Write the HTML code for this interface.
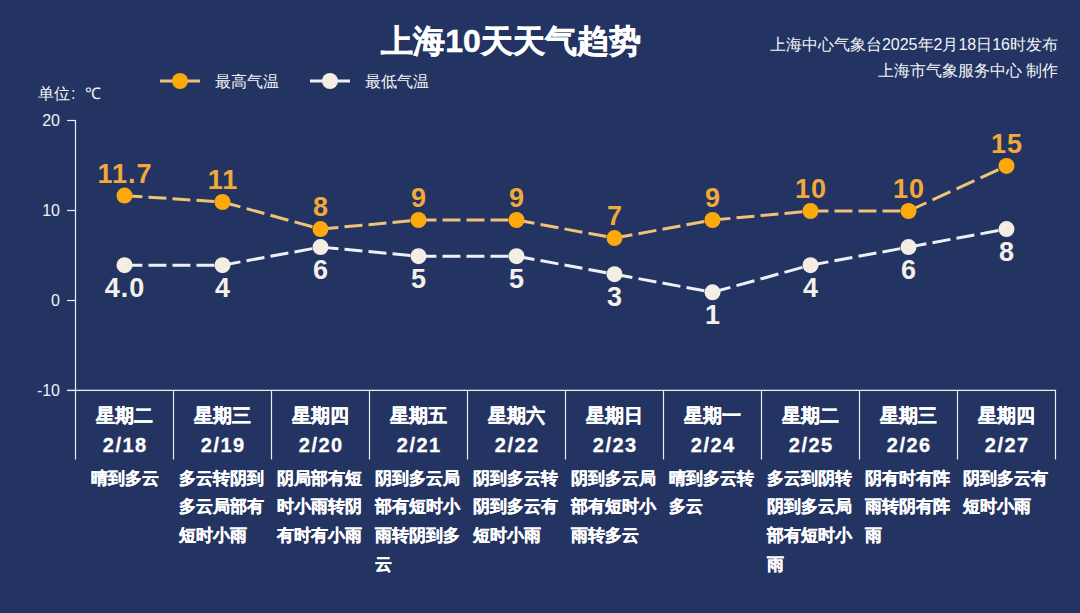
<!DOCTYPE html>
<html><head><meta charset="utf-8">
<style>
html,body{margin:0;padding:0;}
body{width:1080px;height:613px;background:#243462;position:relative;overflow:hidden;font-family:"Liberation Sans",sans-serif;color:#fff;}
.abs{position:absolute;white-space:nowrap;}
#title{position:absolute;left:0;top:21px;width:1022px;text-align:center;font-size:32px;font-weight:bold;line-height:40px;-webkit-text-stroke:0.5px #fff}
.src{position:absolute;right:22px;font-size:16px;line-height:20px;text-align:right;white-space:nowrap;color:#f2f4f8}
.leg{position:absolute;font-size:16px;line-height:20px;color:#f2f4f8;white-space:nowrap}
svg{position:absolute;left:0;top:0}
.ytk{position:absolute;width:40px;text-align:right;font-size:16px;line-height:16px;color:#eef2f8}
.vl{position:absolute;width:100px;text-align:center;font-size:27px;font-weight:bold;line-height:28px;letter-spacing:1px;text-indent:1px}
.hi{color:#f2a83a}
.lo{color:#f4f0ea}
.col{position:absolute;top:390px;width:98px;text-align:center}
.day{position:absolute;top:15px;left:0;width:98px;font-size:19px;font-weight:bold;line-height:22px;-webkit-text-stroke:0.4px #fff}
.date{position:absolute;top:44px;left:0;width:98px;font-size:20px;letter-spacing:1.5px;text-indent:1.5px;-webkit-text-stroke:0.3px #fff;font-weight:bold;line-height:22px}
.desc{position:absolute;top:74.5px;left:0;width:98px;text-align:center}
.desc span{display:inline-block;-webkit-text-stroke:0.3px #fff;text-align:left;font-size:17px;font-weight:bold;line-height:28.7px;max-width:91px;}
.desc span.ml{position:relative;left:-1.5px}
</style></head><body>
<div id="title">上海10天天气趋势</div>
<div class="src" style="top:35px">上海中心气象台2025年2月18日16时发布</div>
<div class="src" style="top:61px">上海市气象服务中心 制作</div>
<svg width="1080" height="613" viewBox="0 0 1080 613">
<path d="M160 81 H200" stroke="#efc27a" stroke-width="3"/><circle cx="180" cy="81" r="8" fill="#fba90c"/>
<path d="M310 81 H350" stroke="#eef0f8" stroke-width="3"/><circle cx="330" cy="81" r="8" fill="#f3ede4"/>
<path d="M75.5 120.5 V459.5" stroke="#e9eef5" stroke-width="1.2" fill="none"/>
<path d="M67 120.5 H76" stroke="#e9eef5" stroke-width="1.2"/>
<path d="M67 210.5 H76" stroke="#e9eef5" stroke-width="1.2"/>
<path d="M67 300.5 H76" stroke="#e9eef5" stroke-width="1.2"/>
<path d="M67 390.5 H76" stroke="#e9eef5" stroke-width="1.2"/>
<path d="M67 390.3 H1056" stroke="#e9eef5" stroke-width="1.2"/>
<path d="M173.5 390 V459.5" stroke="#e9eef5" stroke-width="1.2"/>
<path d="M271.5 390 V459.5" stroke="#e9eef5" stroke-width="1.2"/>
<path d="M369.5 390 V459.5" stroke="#e9eef5" stroke-width="1.2"/>
<path d="M467.5 390 V459.5" stroke="#e9eef5" stroke-width="1.2"/>
<path d="M565.5 390 V459.5" stroke="#e9eef5" stroke-width="1.2"/>
<path d="M663.5 390 V459.5" stroke="#e9eef5" stroke-width="1.2"/>
<path d="M761.5 390 V459.5" stroke="#e9eef5" stroke-width="1.2"/>
<path d="M859.5 390 V459.5" stroke="#e9eef5" stroke-width="1.2"/>
<path d="M957.5 390 V459.5" stroke="#e9eef5" stroke-width="1.2"/>
<path d="M1055.5 390 V459.5" stroke="#e9eef5" stroke-width="1.2"/>
<path d="M124.5 195.65 L222.5 201.97" fill="none" stroke="#efc27a" stroke-width="3" stroke-dasharray="17.94 6.11"/>
<path d="M222.5 201.97 L320.5 229.06" fill="none" stroke="#efc27a" stroke-width="3" stroke-dasharray="18.57 6.33"/>
<path d="M320.5 229.06 L418.5 220.03" fill="none" stroke="#efc27a" stroke-width="3" stroke-dasharray="17.98 6.13"/>
<path d="M418.5 220.03 L516.5 220.03" fill="none" stroke="#efc27a" stroke-width="3" stroke-dasharray="17.90 6.10"/>
<path d="M516.5 220.03 L614.5 238.09" fill="none" stroke="#efc27a" stroke-width="3" stroke-dasharray="18.20 6.20"/>
<path d="M614.5 238.09 L712.5 220.03" fill="none" stroke="#efc27a" stroke-width="3" stroke-dasharray="18.20 6.20"/>
<path d="M712.5 220.03 L810.5 211.00" fill="none" stroke="#efc27a" stroke-width="3" stroke-dasharray="17.98 6.13"/>
<path d="M810.5 211.00 L908.5 211.00" fill="none" stroke="#efc27a" stroke-width="3" stroke-dasharray="17.90 6.10"/>
<path d="M908.5 211.00 L1006.5 165.85" fill="none" stroke="#efc27a" stroke-width="3" stroke-dasharray="19.71 6.72"/>
<path d="M124.5 265.18 L222.5 265.18" fill="none" stroke="#eef0f8" stroke-width="3" stroke-dasharray="17.90 6.10"/>
<path d="M222.5 265.18 L320.5 247.12" fill="none" stroke="#eef0f8" stroke-width="3" stroke-dasharray="18.20 6.20"/>
<path d="M320.5 247.12 L418.5 256.15" fill="none" stroke="#eef0f8" stroke-width="3" stroke-dasharray="17.98 6.13"/>
<path d="M418.5 256.15 L516.5 256.15" fill="none" stroke="#eef0f8" stroke-width="3" stroke-dasharray="17.90 6.10"/>
<path d="M516.5 256.15 L614.5 274.21" fill="none" stroke="#eef0f8" stroke-width="3" stroke-dasharray="18.20 6.20"/>
<path d="M614.5 274.21 L712.5 292.27" fill="none" stroke="#eef0f8" stroke-width="3" stroke-dasharray="18.20 6.20"/>
<path d="M712.5 292.27 L810.5 265.18" fill="none" stroke="#eef0f8" stroke-width="3" stroke-dasharray="18.57 6.33"/>
<path d="M810.5 265.18 L908.5 247.12" fill="none" stroke="#eef0f8" stroke-width="3" stroke-dasharray="18.20 6.20"/>
<path d="M908.5 247.12 L1006.5 229.06" fill="none" stroke="#eef0f8" stroke-width="3" stroke-dasharray="18.20 6.20"/>
<circle cx="124.5" cy="195.6" r="8" fill="#fba90c"/>
<circle cx="124.5" cy="265.2" r="8" fill="#f3ede4"/>
<circle cx="222.5" cy="202.0" r="8" fill="#fba90c"/>
<circle cx="222.5" cy="265.2" r="8" fill="#f3ede4"/>
<circle cx="320.5" cy="229.1" r="8" fill="#fba90c"/>
<circle cx="320.5" cy="247.1" r="8" fill="#f3ede4"/>
<circle cx="418.5" cy="220.0" r="8" fill="#fba90c"/>
<circle cx="418.5" cy="256.2" r="8" fill="#f3ede4"/>
<circle cx="516.5" cy="220.0" r="8" fill="#fba90c"/>
<circle cx="516.5" cy="256.2" r="8" fill="#f3ede4"/>
<circle cx="614.5" cy="238.1" r="8" fill="#fba90c"/>
<circle cx="614.5" cy="274.2" r="8" fill="#f3ede4"/>
<circle cx="712.5" cy="220.0" r="8" fill="#fba90c"/>
<circle cx="712.5" cy="292.3" r="8" fill="#f3ede4"/>
<circle cx="810.5" cy="211.0" r="8" fill="#fba90c"/>
<circle cx="810.5" cy="265.2" r="8" fill="#f3ede4"/>
<circle cx="908.5" cy="211.0" r="8" fill="#fba90c"/>
<circle cx="908.5" cy="247.1" r="8" fill="#f3ede4"/>
<circle cx="1006.5" cy="165.9" r="8" fill="#fba90c"/>
<circle cx="1006.5" cy="229.1" r="8" fill="#f3ede4"/>
</svg>
<div class="leg" style="left:215px;top:72px">最高气温</div>
<div class="leg" style="left:365px;top:72px">最低气温</div>
<div class="leg" style="left:38px;top:84px">单位</div><div class="leg" style="left:71px;top:84px">:</div><div class="leg" style="left:85px;top:84px">℃</div>
<div class="ytk" style="left:20px;top:113px">20</div>
<div class="ytk" style="left:20px;top:203px">10</div>
<div class="ytk" style="left:20px;top:293px">0</div>
<div class="ytk" style="left:20px;top:383px">-10</div>
<div class="vl hi" style="left:74.5px;top:159.6px">11.7</div><div class="vl lo" style="left:74.5px;top:273.7px">4.0</div><div class="vl hi" style="left:172.5px;top:166.0px">11</div><div class="vl lo" style="left:172.5px;top:273.7px">4</div><div class="vl hi" style="left:270.5px;top:193.1px">8</div><div class="vl lo" style="left:270.5px;top:255.6px">6</div><div class="vl hi" style="left:368.5px;top:184.0px">9</div><div class="vl lo" style="left:368.5px;top:264.7px">5</div><div class="vl hi" style="left:466.5px;top:184.0px">9</div><div class="vl lo" style="left:466.5px;top:264.7px">5</div><div class="vl hi" style="left:564.5px;top:202.1px">7</div><div class="vl lo" style="left:564.5px;top:282.7px">3</div><div class="vl hi" style="left:662.5px;top:184.0px">9</div><div class="vl lo" style="left:662.5px;top:300.8px">1</div><div class="vl hi" style="left:760.5px;top:175.0px">10</div><div class="vl lo" style="left:760.5px;top:273.7px">4</div><div class="vl hi" style="left:858.5px;top:175.0px">10</div><div class="vl lo" style="left:858.5px;top:255.6px">6</div><div class="vl hi" style="left:956.5px;top:129.9px">15</div><div class="vl lo" style="left:956.5px;top:237.6px">8</div>
<div class="col" style="left:75.5px"><div class="day">星期二</div><div class="date">2/18</div><div class="desc"><span>晴到多云</span></div></div><div class="col" style="left:173.5px"><div class="day">星期三</div><div class="date">2/19</div><div class="desc"><span class="ml">多云转阴到<br>多云局部有<br>短时小雨</span></div></div><div class="col" style="left:271.5px"><div class="day">星期四</div><div class="date">2/20</div><div class="desc"><span class="ml">阴局部有短<br>时小雨转阴<br>有时有小雨</span></div></div><div class="col" style="left:369.5px"><div class="day">星期五</div><div class="date">2/21</div><div class="desc"><span class="ml">阴到多云局<br>部有短时小<br>雨转阴到多<br>云</span></div></div><div class="col" style="left:467.5px"><div class="day">星期六</div><div class="date">2/22</div><div class="desc"><span class="ml">阴到多云转<br>阴到多云有<br>短时小雨</span></div></div><div class="col" style="left:565.5px"><div class="day">星期日</div><div class="date">2/23</div><div class="desc"><span class="ml">阴到多云局<br>部有短时小<br>雨转多云</span></div></div><div class="col" style="left:663.5px"><div class="day">星期一</div><div class="date">2/24</div><div class="desc"><span class="ml">晴到多云转<br>多云</span></div></div><div class="col" style="left:761.5px"><div class="day">星期二</div><div class="date">2/25</div><div class="desc"><span class="ml">多云到阴转<br>阴到多云局<br>部有短时小<br>雨</span></div></div><div class="col" style="left:859.5px"><div class="day">星期三</div><div class="date">2/26</div><div class="desc"><span class="ml">阴有时有阵<br>雨转阴有阵<br>雨</span></div></div><div class="col" style="left:957.5px"><div class="day">星期四</div><div class="date">2/27</div><div class="desc"><span class="ml">阴到多云有<br>短时小雨</span></div></div>
</body></html>
